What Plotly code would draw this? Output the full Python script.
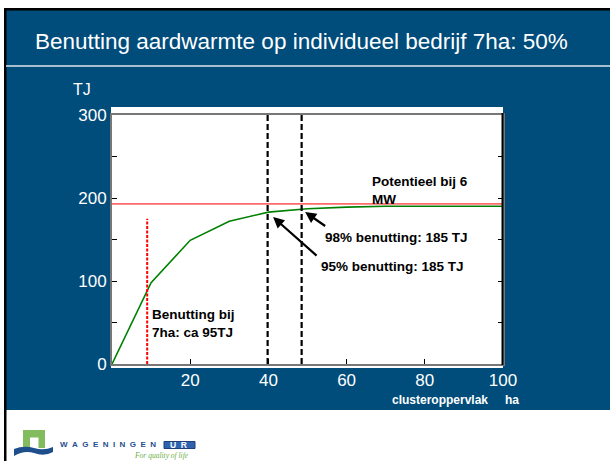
import plotly.graph_objects as go

# ---- data ----
cluster_ha = [0, 10, 20, 30, 40, 50, 60, 70, 80, 90, 100]
benutting_tj = [0, 98, 149, 172, 183, 187, 189, 190, 190, 190, 190]
potentieel_tj = 193
x_95 = 39.8
x_98 = 48.5
x_7ha = 9
y_7ha_top = 175
x_ticks = [20, 40, 60, 80, 100]
y_ticks = [0, 50, 100, 150, 200, 250, 300]
y_ticktext = ["0", "", "100", "", "200", "", "300"]

W, H = 610, 461
L, R, T, B = 112, 107, 115, 97
PW, PH = W - L - R, H - T - B
BLUE = "#004C7B"


def px(x):
    return (x - L) / PW


def py(y):
    return (H - B - y) / PH


fig = go.Figure()
fig.add_trace(go.Scatter(x=cluster_ha, y=benutting_tj, mode="lines",
                         line=dict(color="#008000", width=1.6), hoverinfo="skip"))
fig.add_trace(go.Scatter(x=[0, 100], y=[potentieel_tj, potentieel_tj], mode="lines",
                         line=dict(color="#FF6A6A", width=1.8), hoverinfo="skip"))
for xv in (x_95, x_98):
    fig.add_trace(go.Scatter(x=[xv, xv], y=[0, 300], mode="lines",
                             line=dict(color="black", width=2.2, dash="6px,3px"), hoverinfo="skip"))
fig.add_trace(go.Scatter(x=[x_7ha, x_7ha], y=[0, y_7ha_top], mode="lines",
                         line=dict(color="#FF0000", width=2, dash="3px,1.5px"), hoverinfo="skip"))

shapes = []
# slide background
shapes.append(dict(type="rect", xref="paper", yref="paper", x0=px(5), x1=px(612), y0=py(9), y1=py(410),
                   fillcolor=BLUE, line=dict(width=0), layer="below"))
# black borders
shapes.append(dict(type="rect", xref="paper", yref="paper", x0=px(4), x1=px(612), y0=py(8), y1=py(10.5),
                   fillcolor="black", line=dict(width=0), layer="below"))
shapes.append(dict(type="rect", xref="paper", yref="paper", x0=px(4), x1=px(6.5), y0=py(8), y1=py(463),
                   fillcolor="black", line=dict(width=0), layer="below"))
# title separator
shapes.append(dict(type="line", xref="paper", yref="paper", x0=px(6), x1=px(612), y0=py(66), y1=py(66),
                   line=dict(color="#DDE6EE", width=1.5), layer="below"))
# white plot box
shapes.append(dict(type="rect", xref="paper", yref="paper", x0=px(111), x1=px(503), y0=py(107), y1=py(368),
                   fillcolor="white", line=dict(width=0), layer="below"))
# right black frame line
shapes.append(dict(type="line", xref="paper", yref="paper", x0=px(502.5), x1=px(502.5), y0=py(113), y1=py(365),
                   line=dict(color="black", width=2)))
# logo: green gate
shapes.append(dict(type="path", xref="paper", yref="paper",
                   path=f"M {px(23)} {py(448)} L {px(23)} {py(430)} L {px(45)} {py(430)} L {px(45)} {py(448)} "
                        f"L {px(38.5)} {py(448)} L {px(38.5)} {py(437.5)} L {px(30)} {py(437.5)} L {px(30)} {py(448)} Z",
                   fillcolor="#82BC5E", line=dict(width=0), layer="below"))
# logo: waves
shapes.append(dict(type="path", xref="paper", yref="paper",
                   path=f"M {px(14)} {py(449)} Q {px(24)} {py(445)} {px(34)} {py(448)} Q {px(44)} {py(451)} {px(53)} {py(447)} "
                        f"L {px(53)} {py(452)} Q {px(44)} {py(457)} {px(34)} {py(453)} Q {px(24)} {py(450)} {px(14)} {py(456)} Z",
                   fillcolor="#1F4E8C", line=dict(width=0), layer="below"))
shapes.append(dict(type="rect", xref="paper", yref="paper", x0=px(164), x1=px(195), y0=py(441.5), y1=py(448.5),
                   fillcolor="#2E62AE", line=dict(color="#1F3F78", width=1), layer="below"))

ann = []
bold = "Liberation Sans"
ann.append(dict(text="Benutting aardwarmte op individueel bedrijf 7ha: 50%", xref="paper", yref="paper",
                x=px(33), y=py(42), xanchor="left", yanchor="middle", showarrow=False,
                font=dict(family="Liberation Sans", size=22.5, color="white")))
ann.append(dict(text="TJ", xref="paper", yref="paper", x=px(82), y=py(89), xanchor="center", yanchor="middle",
                showarrow=False, font=dict(family="Liberation Sans", size=16, color="white")))
ann.append(dict(text="<b>clusteroppervlak</b>", xref="paper", yref="paper", x=px(440), y=py(400),
                xanchor="center", yanchor="middle", showarrow=False,
                font=dict(family=bold, size=12, color="white")))
ann.append(dict(text="<b>ha</b>", xref="paper", yref="paper", x=px(512), y=py(400),
                xanchor="center", yanchor="middle", showarrow=False,
                font=dict(family=bold, size=12, color="white")))
ann.append(dict(text="<b>Potentieel bij 6<br>MW</b>", xref="paper", yref="paper", x=px(370), y=py(190),
                xanchor="left", yanchor="middle", align="left", showarrow=False,
                font=dict(family=bold, size=13.5, color="black")))
ann.append(dict(text="<b>98% benutting: 185 TJ</b>", xref="paper", yref="paper", x=px(323), y=py(237.5),
                xanchor="left", yanchor="middle", showarrow=False,
                font=dict(family=bold, size=13.5, color="black")))
ann.append(dict(text="<b>95% benutting: 185 TJ</b>", xref="paper", yref="paper", x=px(319), y=py(266),
                xanchor="left", yanchor="middle", showarrow=False,
                font=dict(family=bold, size=13.5, color="black")))
ann.append(dict(text="<b>Benutting bij<br>7ha: ca 95TJ</b>", xref="paper", yref="paper", x=px(150), y=py(323.5),
                xanchor="left", yanchor="middle", align="left", showarrow=False,
                font=dict(family=bold, size=13.5, color="black")))
# arrows
ann.append(dict(text="", x=41.2, y=177, ax=52.7, ay=129, xref="x", yref="y", axref="x", ayref="y",
                showarrow=True, arrowhead=2, arrowsize=1, arrowwidth=2.2, arrowcolor="black"))
ann.append(dict(text="", x=49.4, y=183, ax=54.9, ay=165, xref="x", yref="y", axref="x", ayref="y",
                showarrow=True, arrowhead=2, arrowsize=1, arrowwidth=2.2, arrowcolor="black"))
# logo texts
gap = "&nbsp;&nbsp;"
ann.append(dict(text="<b>" + gap.join("WAGENINGEN") + "</b>",
                xref="paper", yref="paper", x=px(58), y=py(444.5),
                xanchor="left", yanchor="middle", showarrow=False,
                font=dict(family="Liberation Sans", size=8, color="#1F4E8C")))
ann.append(dict(text="<b>U" + gap + "R</b>", xref="paper", yref="paper", x=px(178), y=py(445),
                xanchor="center", yanchor="middle", showarrow=False,
                font=dict(family="Liberation Sans", size=8.5, color="white")))
ann.append(dict(text="<i>For quality of life</i>", xref="paper", yref="paper", x=px(161), y=py(455),
                xanchor="center", yanchor="middle", showarrow=False,
                font=dict(family="Liberation Serif", size=7.5, color="#6DAF45")))

fig.update_layout(
    width=W, height=H, margin=dict(l=L, r=R, t=T, b=B, autoexpand=False),
    paper_bgcolor="white", plot_bgcolor="white", showlegend=False,
    shapes=shapes, annotations=ann,
    xaxis=dict(range=[0, 100], tickvals=x_ticks, ticks="inside", ticklen=5, tickcolor="black",
               showline=True, linecolor="#777777", linewidth=2, mirror=True, showgrid=False, zeroline=False,
               tickfont=dict(family="Liberation Sans", size=17, color="white")),
    yaxis=dict(range=[0, 300], tickvals=y_ticks, ticktext=y_ticktext, ticks="inside", ticklen=5,
               tickcolor="black", showline=True, linecolor="#777777", linewidth=2, mirror="ticks",
               showgrid=False, zeroline=False,
               tickfont=dict(family="Liberation Sans", size=17, color="white")),
)
fig.write_html("out.html", config={"displayModeBar": False},
               post_script="document.body.style.margin='0';")
